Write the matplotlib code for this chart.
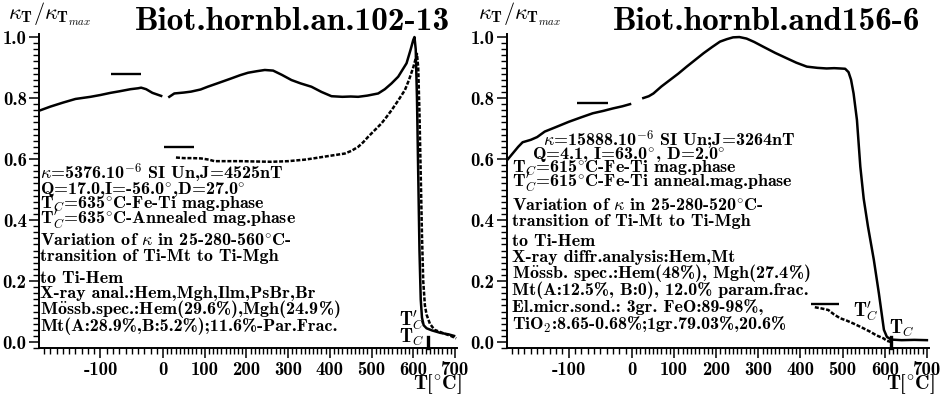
import numpy as np
import matplotlib
matplotlib.use("Agg")
import matplotlib.pyplot as plt
from matplotlib.ticker import MultipleLocator

plt.rcParams['font.family'] = ['cmb10', 'DejaVu Serif']
plt.rcParams['font.weight'] = 'bold'
plt.rcParams['mathtext.fontset'] = 'cm'
plt.rcParams['axes.unicode_minus'] = False

# ---- data ----
x_ticks = [-100, 0, 100, 200, 300, 400, 500, 600, 700]
x_labels = ['-100', '0', '100', '200', '300', '400', '500', '600', '700']
y_ticks = [0.0, 0.2, 0.4, 0.6, 0.8, 1.0]
y_labels = ['0.0', '0.2', '0.4', '0.6', '0.8', '1.0']

# left sample: Biot.hornbl.an.102-13
l_heat_T1 = [-196, -180, -160, -140, -116, -100, -84, -70, -52, -40, -35, -27, -17, -10, -3]
l_heat_k1 = [0.76, 0.772, 0.785, 0.797, 0.804, 0.81, 0.817, 0.822, 0.829, 0.832, 0.834,
             0.829, 0.817, 0.812, 0.807]
l_heat_T2 = [15, 27, 50, 67, 90, 107, 130, 163, 185, 204, 225, 244, 264, 285, 308, 330,
             356, 380, 404, 430, 450, 468, 490, 516, 532, 548, 564, 584, 594, 600, 603,
             606, 609, 612, 615, 618, 621, 625, 632, 645, 665, 685, 698]
l_heat_k2 = [0.804, 0.815, 0.818, 0.821, 0.828, 0.837, 0.848, 0.864, 0.875, 0.883, 0.888,
             0.892, 0.89, 0.876, 0.859, 0.848, 0.837, 0.82, 0.806, 0.804, 0.805, 0.804,
             0.808, 0.815, 0.829, 0.848, 0.87, 0.914, 0.96, 0.99, 1.0, 0.96, 0.8, 0.55,
             0.3, 0.14, 0.08, 0.055, 0.045, 0.038, 0.03, 0.025, 0.02]
l_ann_T = [31, 50, 70, 91, 110, 123, 150, 187, 220, 260, 300, 340, 365, 388, 412, 436,
           452, 468, 480, 492, 508, 524, 536, 548, 564, 580, 590, 600, 606, 609, 612, 615,
           618, 621, 624, 628, 632, 640, 651, 670, 690, 703]
l_ann_k = [0.605, 0.603, 0.603, 0.602, 0.598, 0.593, 0.593, 0.593, 0.592, 0.591, 0.593,
           0.598, 0.603, 0.608, 0.613, 0.618, 0.627, 0.64, 0.655, 0.673, 0.695, 0.717,
           0.738, 0.76, 0.792, 0.826, 0.86, 0.9, 0.93, 0.945, 0.9, 0.75, 0.55, 0.35, 0.2,
           0.12, 0.09, 0.06, 0.04, 0.03, 0.02, 0.012]
l_marks = [(-84, -35, 0.879), (2, 75, 0.64)]
l_tc = 635

# right sample: Biot.hornbl.and156-6
r_heat_T1 = [-196, -188, -180, -173, -160, -150, -138, -120, -100, -80, -62, -45, -30, -15, -3]
r_heat_k1 = [0.6, 0.62, 0.64, 0.655, 0.663, 0.672, 0.69, 0.705, 0.722, 0.737, 0.75, 0.758,
             0.766, 0.773, 0.78]
r_heat_T2 = [27, 40, 51, 70, 90, 110, 130, 150, 170, 190, 209, 225, 240, 255, 272, 290,
             312, 340, 368, 390, 415, 440, 462, 480, 494, 506, 514, 520, 526, 534, 542,
             550, 560, 574, 586, 598, 605, 615, 640, 670, 700]
r_heat_k2 = [0.8, 0.806, 0.815, 0.838, 0.859, 0.88, 0.903, 0.925, 0.947, 0.967, 0.985,
             0.993, 0.999, 1.0, 0.995, 0.984, 0.968, 0.948, 0.93, 0.916, 0.903, 0.899,
             0.897, 0.898, 0.897, 0.896, 0.885, 0.86, 0.815, 0.728, 0.575, 0.47, 0.38,
             0.27, 0.16, 0.04, 0.017, 0.008, 0.006, 0.007, 0.006]
r_ann_T = [434, 450, 466, 480, 494, 510, 525, 545, 565, 580, 597, 605, 615]
r_ann_k = [0.114, 0.11, 0.105, 0.09, 0.078, 0.07, 0.061, 0.048, 0.034, 0.022, 0.012, 0.004, 0.0]
r_marks = [(-87, -38, 0.785), (424, 491, 0.125)]
r_tc = 615

l_title = 'Biot.hornbl.an.102-13'
r_title = 'Biot.hornbl.and156-6'
ylab = r'$\kappa_{\mathbf{T}}/\kappa_{\mathbf{T}_{max}}$'
xlab = r'T[$^{\circ}$C]'

l_text = [r'$\kappa$=5376.10$^{-6}$ SI Un,J=4525nT',
          r'Q=17.0,I=-56.0$^{\circ}$,D=27.0$^{\circ}$',
          r'T$_C$=635$^{\circ}$C-Fe-Ti mag.phase',
          r'T$^{\prime}_C$=635$^{\circ}$C-Annealed mag.phase',
          r'Variation of $\kappa$ in 25-280-560$^{\circ}$C-',
          'transition of Ti-Mt to Ti-Mgh',
          'to Ti-Hem',
          'X-ray anal.:Hem,Mgh,Ilm,PsBr,Br',
          r'M$\ddot{\mathbf{o}}$ssb.spec.:Hem(29.6%),Mgh(24.9%)',
          'Mt(A:28.9%,B:5.2%);11.6%-Par.Frac.']
r_text = [r'$\kappa$=15888.10$^{-6}$ SI Un;J=3264nT',
          r'Q=4.1, I=63.0$^{\circ}$, D=2.0$^{\circ}$',
          r'T$_C$=615$^{\circ}$C-Fe-Ti mag.phase',
          r'T$^{\prime}_C$=615$^{\circ}$C-Fe-Ti anneal.mag.phase',
          r'Variation of $\kappa$ in 25-280-520$^{\circ}$C-',
          'transition of Ti-Mt to Ti-Mgh',
          'to Ti-Hem',
          'X-ray diffr.analysis:Hem,Mt',
          r'M$\ddot{\mathbf{o}}$ssb. spec.:Hem(48%), Mgh(27.4%)',
          'Mt(A:12.5%, B:0), 12.0% param.frac.',
          'El.micr.sond.: 3gr. FeO:89-98%,',
          r'TiO$_2$:8.65-0.68%;1gr.79.03%,20.6%']

# ---- layout (pixels) ----
W, H = 945, 395
l_text_x = [40] * 10
l_text_y = [174, 189, 204, 219, 240, 256, 278, 293, 309, 326]
r_text_x = [543, 532] + [512] * 10
r_text_y = [141, 155, 168, 182, 205, 221, 241, 257, 273, 290, 307, 325]
body_fs = 13


def fwd(x):
    x = np.asarray(x, dtype=float)
    return np.where(x < 0, 1.5 * x, x)


def inv(x):
    x = np.asarray(x, dtype=float)
    return np.where(x < 0, x / 1.5, x)


def fig_text(x, y, s, **kw):
    fig.text(x / W, 1 - y / H, s, **kw)


fig = plt.figure(figsize=(9.45, 3.95), dpi=100)


def make_axes(x0, x1):
    ytop, ybot = 34, 348.1
    ax = fig.add_axes([x0 / W, 1 - ybot / H, (x1 - x0) / W, (ybot - ytop) / H])
    ax.set_xscale('function', functions=(fwd, inv))
    ax.set_xlim(-198, 705)
    ax.set_ylim(-0.02, 1.01)
    ax.set_xticks(x_ticks, x_labels)
    ax.set_yticks(y_ticks, y_labels)
    ax.xaxis.set_minor_locator(MultipleLocator(10))
    ax.yaxis.set_minor_locator(MultipleLocator(0.02))
    ax.tick_params(which='major', direction='out', length=7, width=1.1, labelsize=13.5, pad=2)
    ax.tick_params(which='minor', direction='out', length=4, width=1.0)
    for s in ['top', 'right']:
        ax.spines[s].set_visible(False)
    for s in ['left', 'bottom']:
        ax.spines[s].set_linewidth(1.4)
    ax.patch.set_alpha(0)
    return ax


axl = make_axes(39.2, 457)
axr = make_axes(506.8, 929)

for ax, T1, k1, T2, k2, Ta, ka, marks, tc in [
        (axl, l_heat_T1, l_heat_k1, l_heat_T2, l_heat_k2, l_ann_T, l_ann_k, l_marks, l_tc),
        (axr, r_heat_T1, r_heat_k1, r_heat_T2, r_heat_k2, r_ann_T, r_ann_k, r_marks, r_tc)]:
    ax.plot(T1, k1, color='black', lw=1.8)
    ax.plot(T2, k2, color='black', lw=1.8)
    ax.plot(Ta, ka, color='black', lw=1.8, linestyle=(0, (1.6, 0.7)))
    for xa, xb, ya in marks:
        ax.plot([xa, xb], [ya, ya], color='black', lw=1.7, solid_capstyle='butt')
    ax.plot([tc, tc], [-0.02, 0.018], color='black', lw=2.4, clip_on=False)

# Curie point labels
axl.text(627, 0.07, r"T$^{\prime}_C$", ha='right', va='center', fontsize=13.5)
axl.text(627, 0.016, r"T$_C$", ha='right', va='center', fontsize=13.5)
axr.text(555, 0.098, r"T$^{\prime}_C$", ha='center', va='center', fontsize=13.5)
axr.text(641, 0.045, r"T$_C$", ha='center', va='center', fontsize=13.5)

# titles and axis labels
fig_text(292, 30, l_title, fontsize=24, va='baseline', ha='center')
fig_text(767, 30, r_title, fontsize=24, va='baseline', ha='center')
fig_text(8, 20, ylab, fontsize=16, va='baseline')
fig_text(478, 20, ylab, fontsize=16, va='baseline')
fig_text(437, 384, xlab, fontsize=14.5, ha='center', va='center')
fig_text(910, 384, xlab, fontsize=14.5, ha='center', va='center')

for x, y, s in zip(l_text_x, l_text_y, l_text):
    fig_text(x, y + 5, s, fontsize=body_fs, va='baseline')
for x, y, s in zip(r_text_x, r_text_y, r_text):
    fig_text(x, y + 5, s, fontsize=body_fs, va='baseline')

fig.savefig('out.png', dpi=100)
